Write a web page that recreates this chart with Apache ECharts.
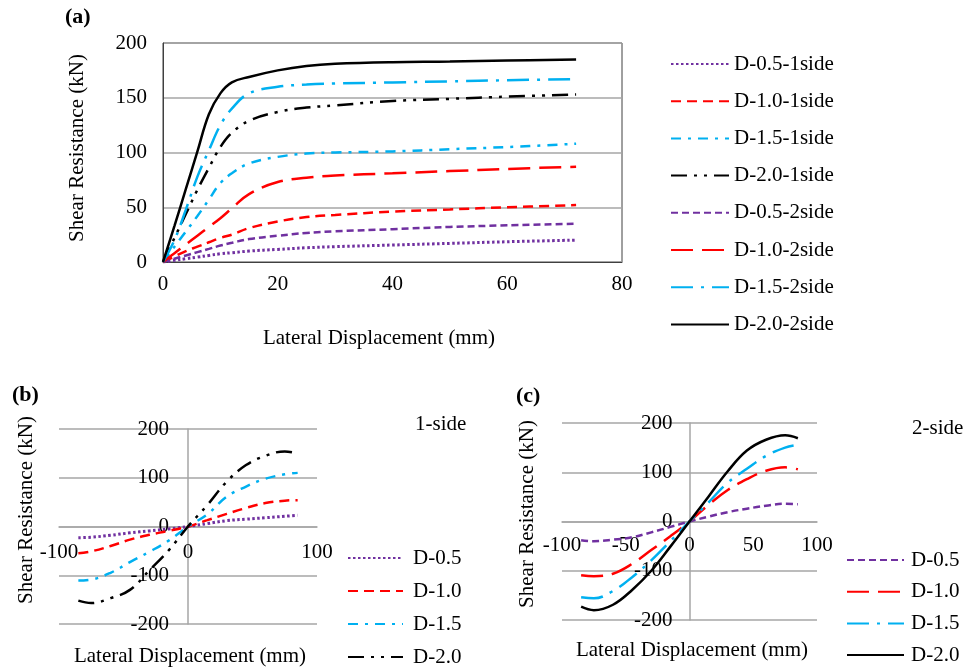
<!DOCTYPE html>
<html><head><meta charset="utf-8">
<script src="https://cdn.jsdelivr.net/npm/echarts@6/dist/echarts.min.js"></script>
<style>html,body{margin:0;padding:0;background:#fff}#c{width:978px;height:669px}</style>
</head><body><div id="c"></div>
<script>
// ---------- Panel (a): monotonic loading ----------
const dispA = [0, 2, 4, 6, 8, 10, 12, 15, 20, 25, 30, 40, 50, 60, 72];
const a05_1 = [0, 1.5, 3, 4.5, 6, 7.5, 8.5, 10, 11.5, 13, 14, 15.5, 17, 18.5, 20];
const a10_1 = [0, 5, 10, 14, 18, 22, 25, 31, 37, 41, 43, 46, 48, 50, 52];
const a15_1 = [0, 14, 28, 42, 57, 72, 81, 90, 96, 99, 100, 101, 103, 105, 108];
const a20_1 = [0, 22, 44, 66, 86, 105, 118, 129, 137, 141, 143, 147, 149, 151, 153];
const a05_2 = [0, 3, 6, 9, 12, 15, 17.5, 21, 24, 26.5, 28, 30, 32, 33.5, 35];
const a10_2 = [0, 8, 16, 24, 32, 40, 49, 62, 73, 77, 79, 81, 83, 85, 87];
const a15_2 = [0, 20, 48, 78, 102, 125, 140, 154, 160, 162, 163, 164, 165, 166, 167];
const a20_2 = [0, 33, 67, 101, 135, 154, 164, 169, 175, 179, 181, 182.5, 183, 184, 185];
const namesA = ['D-0.5-1side','D-1.0-1side','D-1.5-1side','D-2.0-1side','D-0.5-2side','D-1.0-2side','D-1.5-2side','D-2.0-2side'];

// ---------- Panels (b) and (c): cyclic ----------
const dispBC = [-85, -75, -60, -45, -30, -15, 0, 15, 30, 45, 60, 75, 85];
const b05 = [-23, -22, -18, -13, -9, -5, 0, 6, 12, 15, 18, 21, 23];
const b10 = [-55, -51, -40, -27, -17, -9, 0, 13, 26, 38, 48, 53, 54];
const b15 = [-111, -109, -95, -73, -52, -29, 0, 25, 61, 82, 98, 107, 110];
const b20 = [-152, -157, -147, -130, -90, -49, 0, 44, 92, 126, 145, 154, 150];
const c05 = [-38, -40, -37, -32, -22, -11, 0, 10, 19, 26, 32, 36, 35];
const c10 = [-109, -111, -106, -86, -58, -30, 0, 34, 64, 86, 103, 110, 106];
const c15 = [-154, -156, -141, -113, -79, -40, 0, 39, 79, 107, 133, 150, 156];
const c20 = [-173, -180, -169, -139, -100, -51, 0, 51, 102, 144, 166, 175, 169];
const namesBC = ['D-0.5','D-1.0','D-1.5','D-2.0'];

// ---------- styles ----------
const PURPLE = '#7030A0', RED = '#FF0000', CYAN = '#00B0F0', BLACK = '#000000';
const st1 = [
  {color: PURPLE, type: [2.5, 2.5], width: 3},
  {color: RED, type: [10, 6], width: 2.5},
  {color: CYAN, type: [10, 7, 3, 7], width: 2.5},
  {color: BLACK, type: [16, 7, 3, 7, 3, 7], width: 2.5}
];
const st2 = [
  {color: PURPLE, type: [7, 4], width: 2.5},
  {color: RED, type: [22, 9], width: 2.5},
  {color: CYAN, type: [22, 8, 3, 8], width: 2.5},
  {color: BLACK, type: 'solid', width: 2.5}
];
const FONT = '"Liberation Serif", "Times New Roman", serif';
const FS = 21;
const GRIDC = '#a6a6a6';

function mk(name, xs, ys, ls, idx) {
  return {
    name: name, type: 'line', xAxisIndex: idx, yAxisIndex: idx,
    data: xs.map((x, i) => [x, ys[i]]),
    showSymbol: false, symbol: 'none', smooth: 0.4,
    lineStyle: Object.assign({cap: 'butt'}, ls), color: ls.color,
    itemStyle: {color: ls.color}, emphasis: {disabled: true}
  };
}

const series = [];
[a05_1, a10_1, a15_1, a20_1].forEach((d, i) => series.push(mk(namesA[i], dispA, d, st1[i], 0)));
[a05_2, a10_2, a15_2, a20_2].forEach((d, i) => series.push(mk(namesA[i + 4], dispA, d, st2[i], 0)));
[b05, b10, b15, b20].forEach((d, i) => series.push(mk('b:' + namesBC[i], dispBC, d, st1[i], 1)));
[c05, c10, c15, c20].forEach((d, i) => series.push(mk('c:' + namesBC[i], dispBC, d, st2[i], 2)));

const lblStyle = {fontFamily: FONT, fontSize: FS, color: '#000'};
const legText = {fontFamily: FONT, fontSize: FS, color: '#000'};
const legItem = {opacity: 0, color: 'rgba(0,0,0,0)', borderWidth: 0};

const option = {
  animation: false,
  grid: [
    {left: 163, top: 43, width: 459, height: 219, show: true, borderColor: '#404040', borderWidth: 1},
    {left: 59, top: 429, width: 258, height: 195},
    {left: 562, top: 423, width: 255, height: 197}
  ],
  xAxis: [
    {gridIndex: 0, type: 'value', min: 0, max: 80, interval: 20,
     axisLine: {show: true, lineStyle: {color: '#404040', width: 1}}, axisTick: {show: false},
     splitLine: {show: false}, axisLabel: Object.assign({margin: 12}, lblStyle)},
    {gridIndex: 1, type: 'value', min: -100, max: 100, interval: 100, offset: -97.5,
     axisLine: {show: true, onZero: false, lineStyle: {color: GRIDC, width: 1.5}}, axisTick: {show: false},
     splitLine: {show: false}, axisLabel: Object.assign({margin: 15}, lblStyle)},
    {gridIndex: 2, type: 'value', min: -100, max: 100, interval: 50, offset: -98.5,
     axisLine: {show: true, onZero: false, lineStyle: {color: GRIDC, width: 1.5}}, axisTick: {show: false},
     splitLine: {show: false}, axisLabel: Object.assign({margin: 13}, lblStyle)}
  ],
  yAxis: [
    {gridIndex: 0, type: 'value', min: 0, max: 200, interval: 50,
     axisLine: {show: true, lineStyle: {color: '#404040', width: 1}}, axisTick: {show: false},
     splitLine: {show: true, lineStyle: {color: GRIDC, width: 1.5}}, axisLabel: Object.assign({margin: 16}, lblStyle)},
    {gridIndex: 1, type: 'value', min: -200, max: 200, interval: 100, offset: -129,
     axisLine: {show: true, onZero: false, lineStyle: {color: GRIDC, width: 1.5}}, axisTick: {show: false},
     splitLine: {show: true, lineStyle: {color: GRIDC, width: 1.5}}, axisLabel: Object.assign({margin: 19}, lblStyle)},
    {gridIndex: 2, type: 'value', min: -200, max: 200, interval: 100, offset: -127.5,
     axisLine: {show: true, onZero: false, lineStyle: {color: GRIDC, width: 1.5}}, axisTick: {show: false},
     splitLine: {show: true, lineStyle: {color: GRIDC, width: 1.5}}, axisLabel: Object.assign({margin: 17}, lblStyle)}
  ],
  legend: [
    {data: namesA, orient: 'vertical', left: 670, top: 53.5, padding: 0, itemWidth: 58, itemHeight: 14, itemGap: 16.2,
     itemStyle: legItem, textStyle: legText, selectedMode: false},
    {data: namesBC.map(n => 'b:' + n), orient: 'vertical', left: 347, top: 547.5, padding: 0, height: 300,
     itemWidth: 55, itemHeight: 14, itemGap: 12, formatter: n => n.slice(2),
     itemStyle: legItem, textStyle: Object.assign({padding: [0, 0, 0, 5]}, legText), selectedMode: false},
    {data: namesBC.map(n => 'c:' + n), orient: 'vertical', left: 846, top: 549.5, padding: 0, height: 300,
     itemWidth: 57, itemHeight: 14, itemGap: 10.7, formatter: n => n.slice(2),
     itemStyle: legItem, textStyle: Object.assign({padding: [0, 0, 0, 2]}, legText), selectedMode: false}
  ],
  graphic: [
    {type: 'text', left: 65, top: 6, style: {text: '(a)', font: 'bold 22px ' + FONT, fill: '#000'}},
    {type: 'text', left: 12, top: 384, style: {text: '(b)', font: 'bold 22px ' + FONT, fill: '#000'}},
    {type: 'text', left: 516, top: 385, style: {text: '(c)', font: 'bold 22px ' + FONT, fill: '#000'}},
    {type: 'text', x: 77, y: 148, rotation: Math.PI / 2,
     style: {text: 'Shear Resistance (kN)', font: FS + 'px ' + FONT, fill: '#000', align: 'center', verticalAlign: 'middle'}},
    {type: 'text', x: 379, y: 338,
     style: {text: 'Lateral Displacement (mm)', font: FS + 'px ' + FONT, fill: '#000', align: 'center', verticalAlign: 'middle'}},
    {type: 'text', x: 26, y: 510, rotation: Math.PI / 2,
     style: {text: 'Shear Resistance (kN)', font: FS + 'px ' + FONT, fill: '#000', align: 'center', verticalAlign: 'middle'}},
    {type: 'text', x: 190, y: 656,
     style: {text: 'Lateral Displacement (mm)', font: FS + 'px ' + FONT, fill: '#000', align: 'center', verticalAlign: 'middle'}},
    {type: 'text', x: 527, y: 514, rotation: Math.PI / 2,
     style: {text: 'Shear Resistance (kN)', font: FS + 'px ' + FONT, fill: '#000', align: 'center', verticalAlign: 'middle'}},
    {type: 'text', x: 692, y: 650,
     style: {text: 'Lateral Displacement (mm)', font: FS + 'px ' + FONT, fill: '#000', align: 'center', verticalAlign: 'middle'}},
    {type: 'text', x: 415, y: 424,
     style: {text: '1-side', font: FS + 'px ' + FONT, fill: '#000', align: 'left', verticalAlign: 'middle'}},
    {type: 'text', x: 912, y: 428,
     style: {text: '2-side', font: FS + 'px ' + FONT, fill: '#000', align: 'left', verticalAlign: 'middle'}}
  ],
  series: series
};
const chart = echarts.init(document.getElementById('c'), null, {renderer: 'canvas'});
chart.setOption(option);
</script></body></html>
